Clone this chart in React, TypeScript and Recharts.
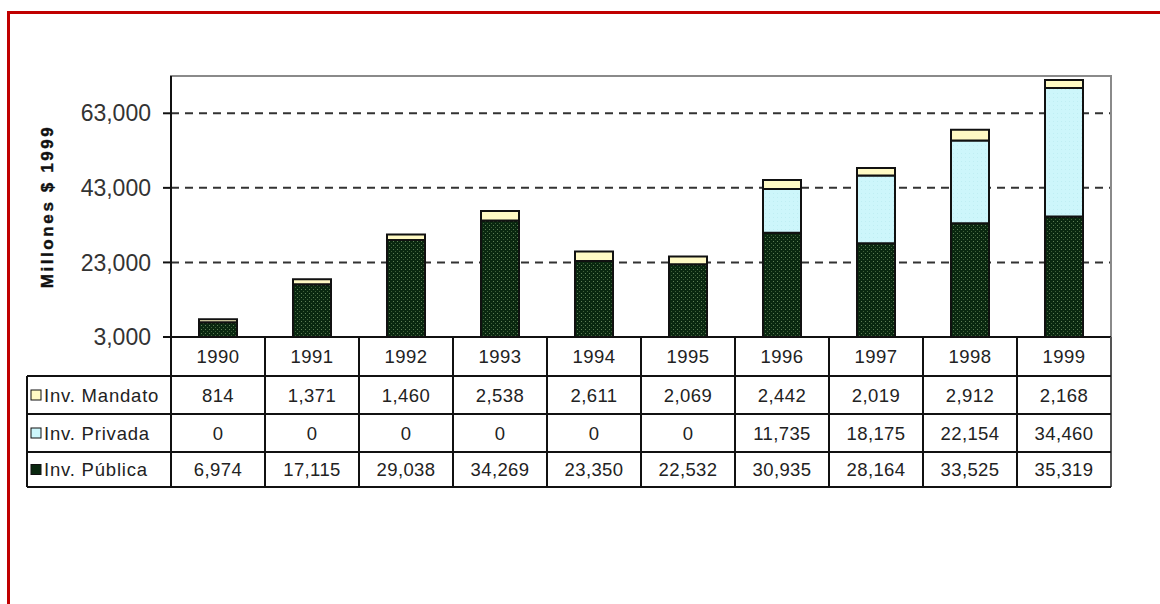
import React from 'react';
import { BarChart, Bar, XAxis, YAxis, CartesianGrid, ReferenceArea, Label } from 'recharts';

const years = ['1990', '1991', '1992', '1993', '1994', '1995', '1996', '1997', '1998', '1999'];
const mandato = [814, 1371, 1460, 2538, 2611, 2069, 2442, 2019, 2912, 2168];
const privada = [0, 0, 0, 0, 0, 0, 11735, 18175, 22154, 34460];
const publica = [6974, 17115, 29038, 34269, 23350, 22532, 30935, 28164, 33525, 35319];
const yTicks = [3000, 23000, 43000, 63000];
const yDomain = [3000, 73000];
const seriesNames = ['Inv. Mandato', 'Inv. Privada', 'Inv. Pública'];
const yTitle = 'Millones $ 1999';

const colors = { mandato: '#fffac4', privada: '#cdf6fb', publica: '#0a2810' };

const data = years.map((y, i) => ({ year: y, publica: publica[i], privada: privada[i], mandato: mandato[i] }));

const W = 1160;
const H = 604;
const margin = { top: 76, right: 49, bottom: 117, left: 91 };
const Y_AXIS_W = 80;
const X_AXIS_H = 150;
const COL_W = (W - margin.left - Y_AXIS_W - margin.right) / years.length;
const LABEL_COL_W = 144;
const rowLines = [0, 39, 77, 115, 150];
const FONT = '"Liberation Sans", Arial, sans-serif';

const fmt = (v: number) => v.toLocaleString('en-US');

function TableTick(props: any) {
  const { x, y, payload } = props;
  const i = payload.index;
  const half = COL_W / 2;
  const rows = [mandato[i], privada[i], publica[i]];
  const line = { stroke: '#111', strokeWidth: 2 };
  const textStyle = { fontFamily: FONT, fontSize: 18.5, fill: '#222', letterSpacing: 0.4 } as any;
  const els: any[] = [];
  els.push(<line key="vl" x1={x - half} x2={x - half} y1={y} y2={y + rowLines[4]} {...line} />);
  if (i === years.length - 1) {
    els.push(<line key="vr" x1={x + half} x2={x + half} y1={y} y2={y + rowLines[4]} stroke="#555" strokeWidth={2} />);
  }
  for (let r = 1; r < rowLines.length; r++) {
    els.push(<line key={'h' + r} x1={x - half} x2={x + half} y1={y + rowLines[r]} y2={y + rowLines[r]} {...line} />);
  }
  els.push(
    <text key="yr" x={x} y={y + (rowLines[0] + rowLines[1]) / 2} textAnchor="middle" dominantBaseline="central" {...textStyle}>
      {payload.value}
    </text>
  );
  rows.forEach((v, r) => {
    els.push(
      <text key={'v' + r} x={x} y={y + (rowLines[r + 1] + rowLines[r + 2]) / 2} textAnchor="middle" dominantBaseline="central" {...textStyle}>
        {fmt(v)}
      </text>
    );
  });
  if (i === 0) {
    const L = x - half - LABEL_COL_W;
    const swatches = [colors.mandato, colors.privada, colors.publica];
    els.push(<line key="lv" x1={L} x2={L} y1={y + rowLines[1]} y2={y + rowLines[4]} {...line} />);
    for (let r = 1; r < rowLines.length; r++) {
      els.push(<line key={'lh' + r} x1={L} x2={x - half} y1={y + rowLines[r]} y2={y + rowLines[r]} {...line} />);
    }
    seriesNames.forEach((n, r) => {
      const cy = y + (rowLines[r + 1] + rowLines[r + 2]) / 2;
      els.push(<rect key={'s' + r} x={L + 4} y={cy - 5} width={10} height={10} fill={swatches[r]} stroke="#111" strokeWidth={1} />);
      els.push(
        <text key={'n' + r} x={L + 17} y={cy} dominantBaseline="central" {...textStyle} letterSpacing={0.8}>
          {n}
        </text>
      );
    });
  }
  return <g>{els}</g>;
}

export default function App() {
  return (
    <div style={{ position: 'absolute', left: 0, top: 0, width: W, height: H, background: '#fff', overflow: 'hidden' }}>
      <div style={{ position: 'absolute', left: 7, top: 11, right: 0, bottom: 0, borderTop: '3px solid #c00000', borderLeft: '3px solid #c00000' }} />
      <BarChart width={W} height={H} data={data} margin={margin} barSize={38} style={{ position: 'absolute', left: 0, top: 0 }}>
        <defs>
          <pattern id="dots" width="4" height="4" patternUnits="userSpaceOnUse">
            <rect width="4" height="4" fill={colors.publica} />
            <rect x="1" y="1" width="1" height="1" fill="#5f7f57" />
            <rect x="3" y="3" width="1" height="1" fill="#40603a" />
          </pattern>
          <pattern id="lightdots" width="4" height="4" patternUnits="userSpaceOnUse">
            <rect width="4" height="4" fill={colors.privada} />
            <rect x="1" y="1" width="1" height="1" fill="#bfeef3" />
          </pattern>
        </defs>
        <ReferenceArea y1={yDomain[0]} y2={yDomain[1]} fill="none" stroke="#8a8a8a" strokeWidth={2} ifOverflow="visible" />
        <CartesianGrid vertical={false} stroke="#333" strokeWidth={2} strokeDasharray="8 6" />
        <XAxis
          dataKey="year"
          height={X_AXIS_H}
          interval={0}
          tickLine={false}
          tickSize={0}
          tickMargin={0}
          axisLine={{ stroke: '#111', strokeWidth: 2 }}
          tick={<TableTick />}
        />
        <YAxis
          width={Y_AXIS_W}
          domain={yDomain}
          ticks={yTicks}
          allowDataOverflow
          tickSize={8}
          tickMargin={12}
          tickFormatter={fmt}
          axisLine={{ stroke: '#111', strokeWidth: 2 }}
          tickLine={{ stroke: '#111', strokeWidth: 2 }}
          tick={{ fontFamily: FONT, fontSize: 23, fill: '#333' }}
        >
          <Label
            content={(p: any) => {
              const vb = p.viewBox;
              const cx = vb.x - 44;
              const cy = vb.y + vb.height / 2;
              return (
                <text
                  x={cx}
                  y={cy}
                  transform={`rotate(-90 ${cx} ${cy})`}
                  textAnchor="middle"
                  dominantBaseline="central"
                  fontFamily={FONT}
                  fontWeight="bold"
                  fontSize={17}
                  letterSpacing={2.6}
                  fill="#111"
                  stroke="#111"
                  strokeWidth={0.4}
                >
                  {yTitle}
                </text>
              );
            }}
          />
        </YAxis>
        <Bar dataKey="publica" stackId="a" fill="url(#dots)" stroke="#111" strokeWidth={2} isAnimationActive={false} />
        <Bar dataKey="privada" stackId="a" fill="url(#lightdots)" stroke="#111" strokeWidth={2} isAnimationActive={false} />
        <Bar dataKey="mandato" stackId="a" fill={colors.mandato} stroke="#111" strokeWidth={2} isAnimationActive={false} />
      </BarChart>
    </div>
  );
}
